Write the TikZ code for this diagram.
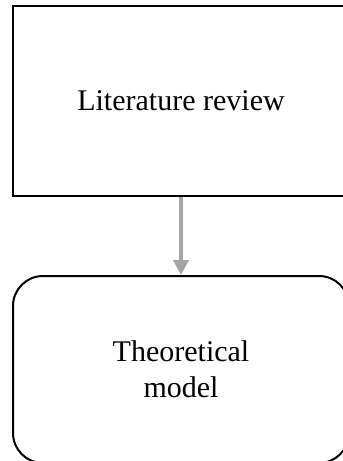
\documentclass[tikz,border=0pt]{standalone}
\usepackage{fontspec}
\setmainfont{Liberation Serif}
\usetikzlibrary{arrows.meta}
\definecolor{flowgray}{HTML}{A5A5A5}
\begin{document}
\begin{tikzpicture}[x=1pt,y=-1pt,
  box/.style={draw=black, line width=2pt, minimum width=336pt, inner sep=0pt,
    font=\fontsize{30}{36}\selectfont, align=center},
  flow/.style={draw=flowgray, line width=4.5pt,
    -{Triangle[width=15pt,length=15pt]}}]
\useasboundingbox (0,0) rectangle (343,461);
\clip (0,0) rectangle (343,461);
% first stage
\node[box, minimum height=190pt] (lit) at (181,101) {Literature review};
% second stage
\node[box, rounded corners=30pt, minimum height=187pt] (theo) at (181,369.5) {Theoretical\\model};
% link between stages
\draw[flow] (lit.south) -- (theo.north);
\end{tikzpicture}
\end{document}
